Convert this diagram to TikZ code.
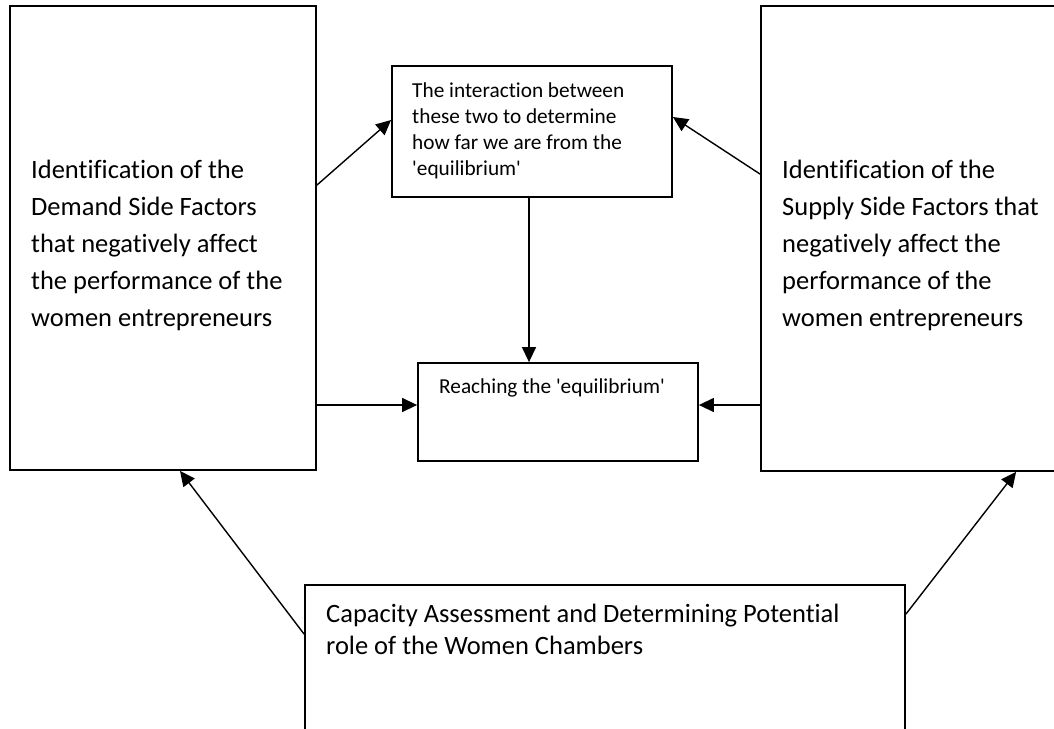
\documentclass[tikz,border=0pt]{standalone}
\usepackage{fontspec}
\setmainfont{Carlito}[Ligatures={TeX,NoCommon}]
\usetikzlibrary{arrows.meta}

\tikzset{
    box/.style={draw, rectangle, line width=1.8pt, inner sep=0pt},
    arr/.style={-{Triangle[length=15pt,width=14pt]}, line width=1.4pt},
    txt/.style={anchor=north west, align=left, inner sep=0pt},
    bigtext/.style={txt, font=\fontsize{26.5}{37}\selectfont},
    smalltext/.style={txt, font=\fontsize{21.3}{26}\selectfont},
}

\begin{document}
\begin{tikzpicture}[x=1pt,y=-1pt]
    \clip (0,0) rectangle (1054,728);

    % Side boxes
    \node[box, minimum width=306pt, minimum height=464pt] (demand) at (163,238) {};
    \node[bigtext] (demandtxt) at (31,160) {Identification of the\\Demand Side Factors\\that negatively affect\\the performance of the\\women entrepreneurs};
    \node[box, minimum width=312pt, minimum height=465pt] (supply) at (917,238.5) {};
    \node[bigtext] (supplytxt) at (782,160) {Identification of the\\Supply Side Factors that\\negatively affect the\\performance of the\\women entrepreneurs};

    % Middle boxes
    \node[box, minimum width=280pt, minimum height=131pt] (interact) at (532,131.5) {};
    \node[smalltext] (interacttxt) at (412,83) {The interaction between\\these two to determine\\how far we are from the\\\textquotesingle equilibrium\textquotesingle};
    \node[box, minimum width=280pt, minimum height=98pt] (reach) at (558,412) {};
    \node[smalltext] (reachtxt) at (439,379) {Reaching the \textquotesingle equilibrium\textquotesingle};

    % Bottom box
    \node[box, minimum width=600pt, minimum height=150pt] (chamber) at (605,660) {};
    \node[txt, font=\fontsize{26.5}{32}\selectfont] (chambertxt) at (326,603.5) {Capacity Assessment and Determining Potential\\role of the Women Chambers};

    % Arrows
    \draw[arr] ([yshift=-180pt]demand.north east) -- ([yshift=11.5pt]interact.west);
    \draw[arr] ([yshift=-169pt]supply.north west) -- ([yshift=14.5pt]interact.east);
    \draw[arr] ([xshift=-3pt]interact.south) -- ([xshift=-29pt]reach.north);
    \coordinate (mid) at ([yshift=7pt]reach.west);
    \draw[arr] (mid -| demand.east) -- (mid);
    \draw[arr] (mid -| supply.west) -- (mid -| reach.east);
    \draw[arr] ([yshift=-50pt]chamber.north west) -- ([xshift=17pt]demand.south);
    \draw[arr] ([yshift=-30pt]chamber.north east) -- ([xshift=256pt]supply.south west);
\end{tikzpicture}
\end{document}
